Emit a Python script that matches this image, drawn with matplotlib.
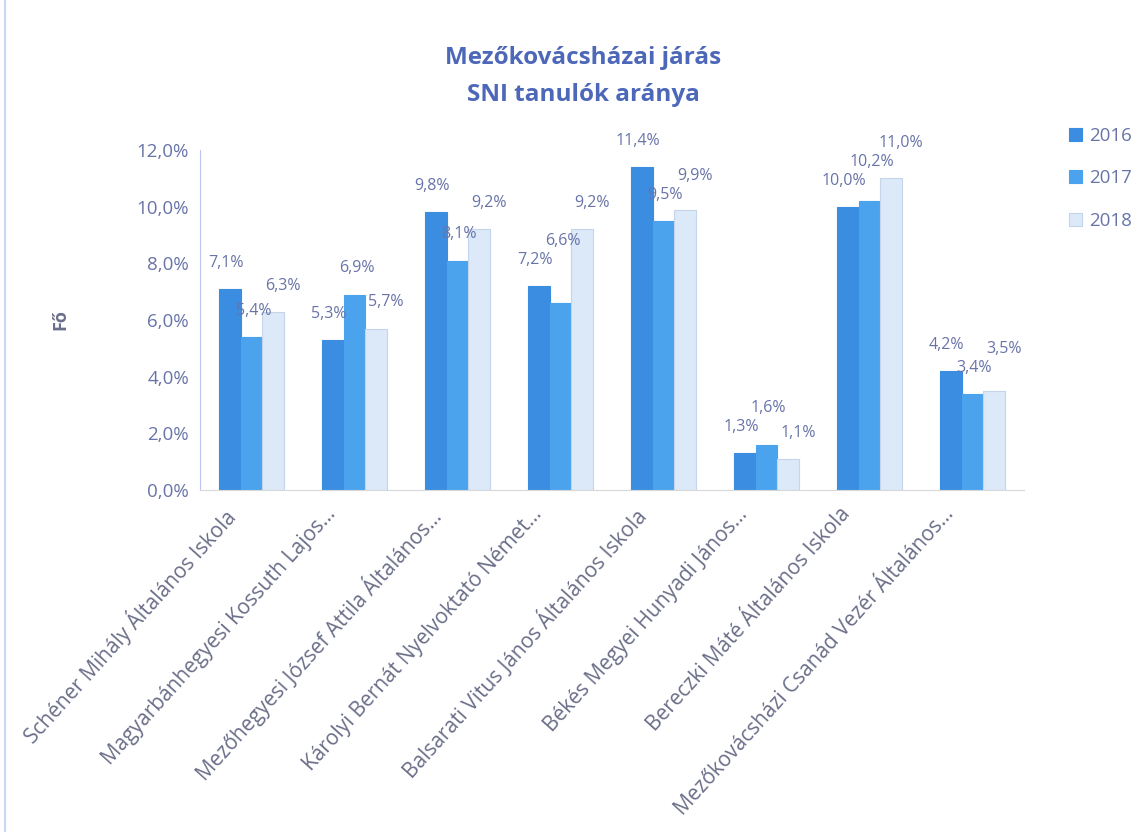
import matplotlib
matplotlib.use("Agg")
import matplotlib.pyplot as plt
import matplotlib.transforms as mtrans
import numpy as np
from matplotlib.lines import Line2D

categories = [
    "Schéner Mihály Általános Iskola",
    "Magyarbánhegyesi Kossuth Lajos...",
    "Mezőhegyesi József Attila Általános...",
    "Károlyi Bernát Nyelvoktató Német...",
    "Balsarati Vitus János Általános Iskola",
    "Békés Megyei Hunyadi János...",
    "Bereczki Máté Általános Iskola",
    "Mezőkovácsházi Csanád Vezér Általános...",
]
series_names = ["2016", "2017", "2018"]
v2016 = [7.1, 5.3, 9.8, 7.2, 11.4, 1.3, 10.0, 4.2]
v2017 = [5.4, 6.9, 8.1, 6.6, 9.5, 1.6, 10.2, 3.4]
v2018 = [6.3, 5.7, 9.2, 9.2, 9.9, 1.1, 11.0, 3.5]
yticks = [0, 2, 4, 6, 8, 10, 12]

plt.rcParams['font.family'] = ['Open Sans', 'DejaVu Sans']

DPI = 100
fig = plt.figure(figsize=(11.48, 8.32), dpi=DPI)
ax = fig.add_axes([200/1148, 1-490/832, 824/1148, 340/832])

colors = ['#3a8de0', '#4aa3ec', '#dbe9f8']
edges = ['#3a8de0', '#4aa3ec', '#c5d4e8']
text_col = '#6874a8'
x = np.arange(len(categories))
w = 0.21
ax.set_xlim(-0.5, len(categories) - 0.5)
ax.set_ylim(0, 12)

all_vals = [v2016, v2017, v2018]
for i, (vals, name) in enumerate(zip(all_vals, series_names)):
    ax.bar(x + (i - 1) * w, vals, width=w, color=colors[i], edgecolor=edges[i],
           linewidth=0.8, label=name, zorder=2)

# data labels with simple collision avoidance (pixel space)
base_dy = 26       # px above bar top
dx_series = [-4, 2, 10]   # px horizontal nudge per series
label_w, label_h = 46, 19
pt = 72.0 / DPI
for g in range(len(categories)):
    placed = []
    for i, vals in enumerate(all_vals):
        v = vals[g]
        bx = x[g] + (i - 1) * w
        px, py = ax.transData.transform((bx, v))
        lx = px + dx_series[i]
        ly = py + base_dy
        changed = True
        while changed:
            changed = False
            for (ox, oy) in placed:
                if abs(lx - ox) < label_w and abs(ly - oy) < label_h:
                    ly = oy + label_h
                    changed = True
        placed.append((lx, ly))
        ax.annotate(f"{v:.1f}%".replace('.', ','), (bx, v),
                    xytext=((lx - px) * pt, (ly - py) * pt),
                    textcoords='offset points', ha='center', va='center',
                    fontsize=11.5, color=text_col)

ax.set_yticks(yticks)
ax.set_yticklabels([f"{t:.1f}%".replace('.', ',') for t in yticks],
                   fontsize=13.5, color=text_col)
ax.set_xticks(x)
ax.set_xticklabels([])
lab_tr = ax.get_xaxis_transform() + mtrans.ScaledTranslation(-30/DPI, -14/DPI,
                                                              fig.dpi_scale_trans)
for g, name in enumerate(categories):
    ax.text(x[g], 0, name, transform=lab_tr, rotation=48, ha='right', va='top',
            rotation_mode='anchor', fontsize=15, color='#6a6e88')
ax.tick_params(axis='both', length=0, pad=8)
for s in ['top', 'right']:
    ax.spines[s].set_visible(False)
ax.spines['left'].set_color('#b8c8ec')
ax.spines['bottom'].set_color('#d8d8d8')

ax.set_ylabel("Fő", fontsize=13, color='#6a6e88', fontweight='bold', labelpad=48)

fig.text(583/1148, 1-58/832, "Mezőkovácsházai járás", ha='center', va='center',
         fontsize=17.5, fontweight='bold', color='#4d68b8')
fig.text(583/1148, 1-95/832, "SNI tanulók aránya", ha='center', va='center',
         fontsize=17.5, fontweight='bold', color='#4d68b8')

fig.legend(loc='upper left', bbox_to_anchor=(1052/1148, 1-110/832),
           frameon=False, fontsize=13.5, labelcolor=text_col,
           handlelength=0.7, handleheight=0.7, handletextpad=0.4,
           labelspacing=1.3)

fig.add_artist(Line2D([5/1148, 5/1148], [0, 1], transform=fig.transFigure,
                      color='#c8d6f4', linewidth=1.5))

fig.savefig("out.png", dpi=DPI, facecolor='white')
